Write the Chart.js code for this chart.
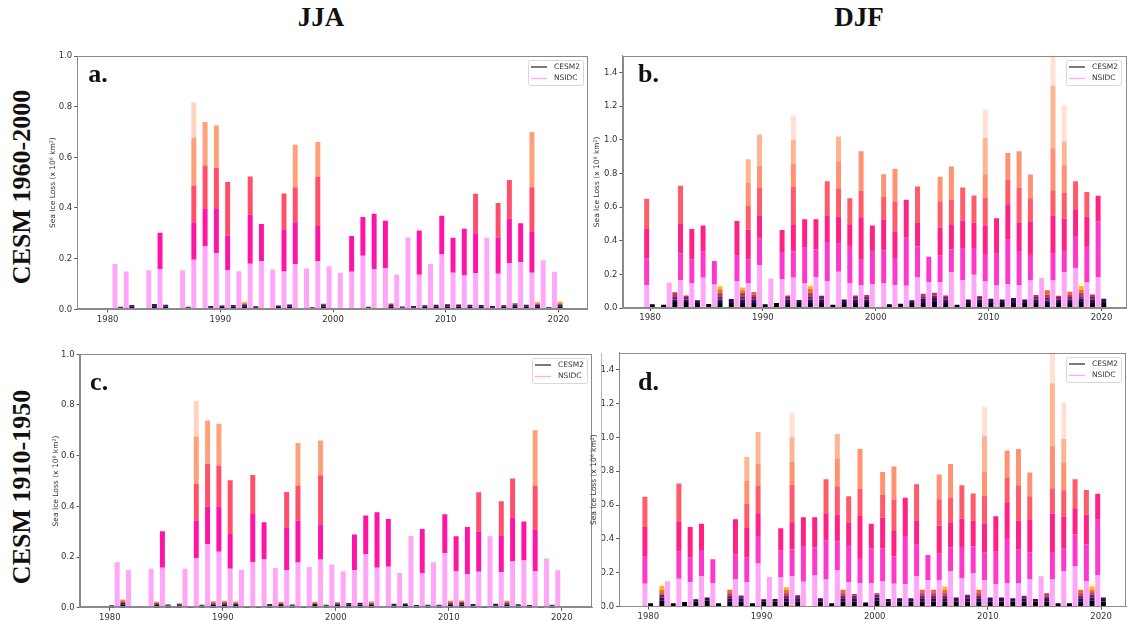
<!DOCTYPE html>
<html>
<head>
<meta charset="utf-8">
<script src="https://cdn.jsdelivr.net/npm/chart.js@4.4.0/dist/chart.umd.min.js"></script>
<style>
  body { margin: 0; width: 1127px; height: 620px; background: #fff; position: relative; overflow: hidden; }
  canvas { position: absolute; }
  .head { position: absolute; top: 4px; font: bold 27px "Liberation Serif", "Times New Roman", serif; color: #111; line-height: 1; transform: translateX(-50%); }
  .row { position: absolute; font: bold 26px "Liberation Serif", "Times New Roman", serif; color: #111; white-space: nowrap; line-height: 1; transform: translate(-50%, -50%) rotate(-90deg); }
  .edge { position: absolute; width: 1px; background: #b8b8b8; }
</style>
</head>
<body>
<div class="head" style="left:321px">JJA</div>
<div class="head" style="left:859px">DJF</div>
<div class="row" style="left:22px; top:187px">CESM 1960-2000</div>
<div class="row" style="left:22px; top:487px">CESM 1910-1950</div>

<canvas id="panelA" width="542" height="290" style="left:49px; top:40px"></canvas>
<canvas id="panelB" width="534" height="290" style="left:593px; top:40px"></canvas>
<canvas id="panelC" width="543" height="290" style="left:52px; top:338px"></canvas>
<canvas id="panelD" width="537" height="290" style="left:590px; top:338px"></canvas>
<div class="edge" style="left:601px; top:353px; height:254px"></div>

<script>
// years on the x axis
const years = [1980, 1981, 1982, 1983, 1984, 1985, 1986, 1987, 1988, 1989,
               1990, 1991, 1992, 1993, 1994, 1995, 1996, 1997, 1998, 1999,
               2000, 2001, 2002, 2003, 2004, 2005, 2006, 2007, 2008, 2009,
               2010, 2011, 2012, 2013, 2014, 2015, 2016, 2017, 2018, 2019, 2020];
const xTickYears = [1980, 1990, 2000, 2010, 2020];
const yTicksJJA = [0, 0.2, 0.4, 0.6, 0.8, 1.0];
const yTicksDJF = [0, 0.2, 0.4, 0.6, 0.8, 1.0, 1.2, 1.4];

// NSIDC, cumulative top of each layer per year (x 10^6 km2)
const nsidcJJA = [
  [0.179], [0.149], [], [0.154], [0.158, 0.302], [], [0.154],
  [0.196, 0.344, 0.489, 0.676, 0.816], [0.25, 0.399, 0.568, 0.739], [0.221, 0.399, 0.559, 0.726],
  [0.154, 0.291, 0.503], [0.15], [0.18, 0.373, 0.524], [0.19, 0.337], [0.157],
  [0.149, 0.316, 0.457], [0.178, 0.344, 0.482, 0.65], [0.161], [0.19, 0.329, 0.523, 0.66], [0.17],
  [0.144], [0.148, 0.289], [0.211, 0.364], [0.158, 0.377], [0.162, 0.35],
  [0.137], [0.283], [0.136, 0.311], [0.179], [0.216, 0.369],
  [0.144, 0.282], [0.133, 0.318], [0.142, 0.3, 0.456], [0.282], [0.14, 0.283, 0.42],
  [0.182, 0.357, 0.51], [0.186, 0.34], [0.144, 0.308, 0.482, 0.7], [0.194], [0.148], []
];
const nsidcDJF = [
  [0.135, 0.295, 0.47, 0.65], [], [0.151], [0.165, 0.325, 0.5, 0.727], [0.145, 0.29, 0.47],
  [0.18, 0.335, 0.49], [0.139, 0.28], [], [0.16, 0.31, 0.517], [0.145, 0.29, 0.465, 0.607, 0.743, 0.884],
  [0.255, 0.413, 0.552, 0.713, 0.846, 1.032], [0.175], [0.173, 0.333, 0.464],
  [0.18, 0.338, 0.498, 0.72, 0.857, 1.0, 1.145], [0.148, 0.358, 0.528],
  [0.184, 0.35, 0.528], [0.16, 0.392, 0.552, 0.753], [0.215, 0.385, 0.544, 0.711, 0.872, 1.02],
  [0.145, 0.364, 0.498, 0.653], [0.137, 0.287, 0.54, 0.697, 0.932],
  [0.139, 0.345, 0.49], [0.149, 0.343, 0.526, 0.663, 0.795], [0.135, 0.297, 0.452, 0.633, 0.828],
  [0.133, 0.418, 0.643], [0.181, 0.366, 0.506, 0.723],
  [0.155, 0.305], [0.155, 0.313, 0.478, 0.635, 0.78], [0.211, 0.349, 0.498, 0.645, 0.842],
  [0.167, 0.353, 0.52, 0.717], [0.197, 0.357, 0.508, 0.669],
  [0.157, 0.321, 0.49, 0.657, 0.795, 1.01, 1.181], [0.134, 0.325, 0.534],
  [0.139, 0.406, 0.617, 0.763, 0.922], [0.137, 0.339, 0.508, 0.717, 0.932], [0.163, 0.321, 0.512, 0.653, 0.793],
  [0.18], [0.163, 0.323, 0.55, 0.7, 0.95, 1.32, 1.52], [0.211, 0.345, 0.53, 0.687, 0.852, 0.99, 1.205],
  [0.237, 0.428, 0.582, 0.753], [0.151, 0.368, 0.544, 0.689], [0.185, 0.514, 0.667]
];

// CESM2, cumulative top of each layer per year
const cesmA = [
  [0.004], [0.006, 0.01], [0.01, 0.017], [], [0.012, 0.021], [0.011, 0.018], [0.004], [0.006, 0.01],
  [0.004], [0.008, 0.013], [0.009, 0.015], [0.01, 0.017], [0.012, 0.018, 0.022, 0.027, 0.031],
  [0.008, 0.012], [0.004], [0.009, 0.015], [0.011, 0.019], [0.004], [0.005, 0.008],
  [0.011, 0.017, 0.022], [0.005], [], [0.004], [0.006, 0.01], [0.004], [0.011, 0.017, 0.021, 0.024],
  [0.007, 0.011], [0.008, 0.013], [0.01, 0.016], [0.011, 0.018], [0.011, 0.017, 0.021],
  [0.011, 0.019], [0.011, 0.018], [0.01, 0.017], [0.008, 0.013], [0.01, 0.016], [0.012, 0.018, 0.024],
  [0.011, 0.018], [0.012, 0.018, 0.022, 0.027, 0.031], [0.006, 0.009], [0.012, 0.018, 0.022, 0.028, 0.033]
];
const cesmB = [
  [0.022], [0.02], [0.035, 0.05, 0.07, 0.093], [0.035, 0.05, 0.065, 0.074], [0.03, 0.046],
  [0.024], [0.03, 0.05, 0.07, 0.09, 0.11, 0.128, 0.136], [0.03, 0.054], [0.03, 0.05, 0.07, 0.09, 0.105, 0.122],
  [0.03, 0.05, 0.065, 0.08, 0.095], [0.022], [0.03], [0.03, 0.05, 0.065, 0.074], [0.03, 0.048],
  [0.03, 0.05, 0.07, 0.09, 0.115, 0.13, 0.142], [0.03, 0.05, 0.073], [0.02], [0.03, 0.05],
  [0.03, 0.05, 0.065, 0.075], [0.035, 0.05, 0.065, 0.078], [], [0.022], [0.026], [0.03, 0.046],
  [0.03, 0.055, 0.07, 0.085], [0.035, 0.06, 0.075, 0.09], [0.03, 0.05, 0.065, 0.075], [0.02],
  [0.03, 0.05], [0.03, 0.05, 0.065, 0.072], [0.03, 0.055], [0.03, 0.05], [0.03, 0.06], [0.03, 0.05],
  [0.03, 0.05, 0.065, 0.077], [0.03, 0.045, 0.06, 0.08, 0.105], [0.03, 0.05, 0.065, 0.073],
  [0.03, 0.05, 0.065, 0.08, 0.097], [0.035, 0.055, 0.07, 0.09, 0.11, 0.13, 0.15],
  [0.03, 0.05, 0.065, 0.08], [0.03, 0.055]
];
const cesmC = [
  [0.006, 0.01], [0.012, 0.02, 0.025, 0.03, 0.034], [], [], [0.012, 0.016, 0.019, 0.023],
  [0.009, 0.013], [0.01, 0.014, 0.017], [0.005], [0.008, 0.012], [0.012, 0.017, 0.021, 0.025],
  [0.012, 0.018, 0.022, 0.026, 0.029], [0.011, 0.016, 0.02, 0.024], [0.004], [0.004], [0.01, 0.015],
  [0.011, 0.016, 0.019, 0.023], [0.008, 0.013], [0.004], [0.011, 0.016, 0.019, 0.023], [0.008, 0.012],
  [0.012, 0.017, 0.021], [0.012, 0.019], [0.013, 0.02], [0.012, 0.017, 0.02, 0.024], [],
  [0.01, 0.016], [0.011, 0.017], [0.007, 0.011], [0.008, 0.012], [0.008, 0.012],
  [0.012, 0.018, 0.022, 0.026, 0.029], [0.013, 0.019, 0.023, 0.027, 0.03], [0.01, 0.015], [0.005],
  [0.01, 0.016], [0.012, 0.018, 0.022, 0.026, 0.029], [0.009, 0.014], [0.007, 0.011], [0.004],
  [0.008, 0.012], []
];
const cesmD = [
  [0.02], [0.035, 0.055, 0.07, 0.08, 0.1, 0.124], [0.02], [0.028], [0.03, 0.044], [0.035, 0.055],
  [0.02], [0.03, 0.05, 0.065, 0.08, 0.1], [0.03, 0.05, 0.066], [0.02], [0.03, 0.044], [0.03, 0.045],
  [0.03, 0.05, 0.065, 0.08, 0.1, 0.115], [0.03, 0.05, 0.068], [], [0.03, 0.05], [0.02],
  [0.03, 0.05, 0.065, 0.08, 0.1], [0.03, 0.05, 0.065, 0.075], [0.025], [0.035, 0.055, 0.07, 0.08],
  [0.03, 0.045], [0.03, 0.05], [0.03, 0.05], [0.03, 0.05, 0.065, 0.08, 0.1], [0.03, 0.05, 0.065, 0.08, 0.1],
  [0.03, 0.05, 0.065, 0.08, 0.1, 0.12], [0.03, 0.055], [0.03, 0.05, 0.07], [0.03, 0.05, 0.065, 0.08, 0.1],
  [0.03, 0.055], [0.03, 0.055], [0.03, 0.05], [0.03, 0.05, 0.065], [0.03, 0.045],
  [0.03, 0.045, 0.06, 0.08], [0.02], [0.02], [0.03, 0.05, 0.065, 0.08, 0.1],
  [0.035, 0.055, 0.07, 0.085, 0.1, 0.12, 0.136], [0.03, 0.055]
];

// layer colours
const obsColorsJJA = ['#ffa6f8', '#ff14a6', '#ff4f6b', '#ffa07a', '#ffd3bf'];
const obsColorsDJF = ['#ffa6f8', '#ff38cc', '#ff2284', '#ff5b69', '#ff9272', '#ffb592', '#ffe0d2'];
const modelColorsJJA = ['#05030f', '#3d0f6e', '#b8365a', '#f8891c', '#fbe26b'];
const modelColorsDJF = ['#000004', '#330a5f', '#781c6d', '#bc3754', '#ed6925', '#fbb61a', '#fcffa4'];

const tickFont = { family: '"DejaVu Sans", sans-serif', size: 8.5 };

// one dataset per layer, stacked by x position
function layerSets(stacks, shift, colors) {
    const depth = Math.max(...stacks.map(s => s.length));
    const sets = [];
    for (let k = 0; k < depth; k++) {
        const pts = [];
        stacks.forEach((tops, i) => {
            if (tops.length > k) {
                pts.push({ x: years[i] + shift, y: tops[k] - (k ? tops[k - 1] : 0) });
            }
        });
        sets.push({
            data: pts,
            backgroundColor: colors[k],
            borderWidth: 0,
            categoryPercentage: 1,
            barPercentage: 0.88
        });
    }
    return sets;
}

// frame, panel letter and legend box
const panelDecor = {
    id: 'panelDecor',
    afterDraw(chart, args, opts) {
        const { ctx, chartArea: a } = chart;
        ctx.save();
        ctx.strokeStyle = '#8a8a8a';
        ctx.lineWidth = 1;
        ctx.strokeRect(Math.round(a.left) + 0.5, Math.round(a.top) + 0.5,
                       Math.round(a.right - a.left) - 1, Math.round(a.bottom - a.top) - 1);

        ctx.fillStyle = '#111';
        ctx.font = 'bold 26px "Liberation Serif", "Times New Roman", serif';
        ctx.textBaseline = 'alphabetic';
        ctx.fillText(opts.letter, a.left + opts.lx, a.top + opts.ly);

        const w = 55, h = 25;
        const x = Math.round(a.right - w - 5), y = Math.round(a.top + 4);
        ctx.fillStyle = 'rgba(255,255,255,0.85)';
        ctx.strokeStyle = '#d8d8d8';
        ctx.beginPath();
        ctx.roundRect(x + 0.5, y + 0.5, w, h, 2);
        ctx.fill();
        ctx.stroke();

        const rows = [['CESM2', '#333'], ['NSIDC', '#ffaaf8']];
        ctx.font = '7.5px "DejaVu Sans", sans-serif';
        ctx.textBaseline = 'middle';
        rows.forEach(([label, color], i) => {
            const ly = y + 7 + i * 11.5;
            ctx.strokeStyle = color;
            ctx.lineWidth = 1.3;
            ctx.beginPath();
            ctx.moveTo(x + 3, ly);
            ctx.lineTo(x + 19, ly);
            ctx.stroke();
            ctx.fillStyle = '#333';
            ctx.fillText(label, x + 26, ly);
        });
        ctx.restore();
    }
};

function makePanel(id, p) {
    const datasets = [
        ...layerSets(p.obs, p.obsShift, p.obsColors),
        ...layerSets(p.model, p.modelShift, p.modelColors)
    ];
    new Chart(document.getElementById(id), {
        type: 'bar',
        data: { datasets: datasets },
        plugins: [panelDecor],
        options: {
            responsive: false,
            animation: false,
            devicePixelRatio: 1,
            layout: { padding: { left: 0, right: p.padRight, top: p.padTop, bottom: 0 } },
            plugins: {
                legend: { display: false },
                tooltip: { enabled: false },
                panelDecor: { letter: p.letter, lx: p.lx, ly: p.ly }
            },
            scales: {
                x: {
                    type: 'linear',
                    min: p.xMin,
                    max: p.xMax,
                    offset: false,
                    stacked: true,
                    grid: { display: true, drawOnChartArea: false, drawTicks: true, tickLength: 3, color: '#555', offset: false },
                    border: { display: true, color: '#8a8a8a' },
                    ticks: { font: tickFont, color: '#333', padding: 2, maxRotation: 0, callback: v => String(v) },
                    afterBuildTicks: s => { s.ticks = xTickYears.map(v => ({ value: v })); },
                    afterFit: s => { s.height = p.xHeight; }
                },
                y: {
                    min: 0,
                    max: p.yMax,
                    stacked: true,
                    grid: { display: true, drawOnChartArea: false, drawTicks: true, tickLength: 3, color: '#555' },
                    border: { display: true, color: '#8a8a8a' },
                    ticks: { font: tickFont, color: '#333', padding: 2, callback: v => v.toFixed(1) },
                    afterBuildTicks: s => { s.ticks = p.yTicks.map(v => ({ value: v })); },
                    afterFit: s => { s.width = p.yWidth; },
                    title: {
                        display: true,
                        text: 'Sea Ice Loss (x 10\u2076 km\u00b2)',
                        font: { family: '"DejaVu Sans", sans-serif', size: 7.5 },
                        color: '#333',
                        padding: 0
                    }
                }
            }
        }
    });
}

makePanel('panelA', {
    obs: nsidcJJA, obsShift: 0.65, obsColors: obsColorsJJA,
    model: cesmA, modelShift: 0.15, modelColors: modelColorsJJA,
    xMin: 1977.3, xMax: 2022.6, yMax: 1.0, yTicks: yTicksJJA,
    yWidth: 28.2, padTop: 16, padRight: 3.3, xHeight: 20.7, letter: 'a.', lx: 11, ly: 26
});
makePanel('panelB', {
    obs: nsidcDJF, obsShift: -0.3, obsColors: obsColorsDJF,
    model: cesmB, modelShift: 0.2, modelColors: modelColorsDJF,
    xMin: 1977.56, xMax: 2022.17, yMax: 1.5, yTicks: yTicksDJF,
    yWidth: 29.5, padTop: 15.7, padRight: 1, xHeight: 22, letter: 'b.', lx: 15.5, ly: 26
});
makePanel('panelC', {
    obs: nsidcJJA, obsShift: 0.65, obsColors: obsColorsJJA,
    model: cesmC, modelShift: 0.15, modelColors: modelColorsJJA,
    xMin: 1977.32, xMax: 2022.68, yMax: 1.0, yTicks: yTicksJJA,
    yWidth: 27.6, padTop: 16.3, padRight: 3, xHeight: 20.3, letter: 'c.', lx: 10.5, ly: 36
});
makePanel('panelD', {
    obs: nsidcDJF, obsShift: -0.3, obsColors: obsColorsDJF,
    model: cesmD, modelShift: 0.2, modelColors: modelColorsDJF,
    xMin: 1977.42, xMax: 2022.2, yMax: 1.5, yTicks: yTicksDJF,
    yWidth: 29.1, padTop: 14.7, padRight: 1, xHeight: 21.3, letter: 'd.', lx: 19, ly: 37
});
</script>
</body>
</html>
